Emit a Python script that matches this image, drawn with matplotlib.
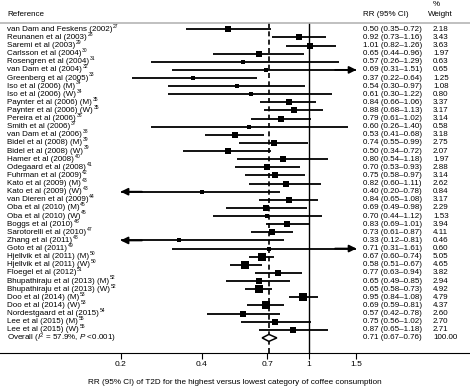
import numpy as np
import matplotlib
matplotlib.use('Agg')
import matplotlib.pyplot as plt
from matplotlib.transforms import blended_transform_factory
from matplotlib.ticker import NullLocator

plt.rcParams['font.family'] = ['Liberation Sans', 'DejaVu Sans']
plt.rcParams['mathtext.fontset'] = 'custom'
plt.rcParams['mathtext.rm'] = 'Liberation Sans'
plt.rcParams['mathtext.it'] = 'Liberation Sans:italic'
plt.rcParams['mathtext.bf'] = 'Liberation Sans:bold'

studies = [
    "van Dam and Feskens (2002)", "Reunanen et al (2003)", "Saremi et al (2003)",
    "Carlsson et al (2004)", "Rosengren et al (2004)", "van Dam et al (2004)",
    "Greenberg et al (2005)", "Iso et al (2006) (M)", "Iso et al (2006) (W)",
    "Paynter et al (2006) (M)", "Paynter et al (2006) (W)", "Pereira et al (2006)",
    "Smith et al (2006)", "van Dam et al (2006)", "Bidel et al (2008) (M)",
    "Bidel et al (2008) (W)", "Hamer et al (2008)", "Odegaard et al (2008)",
    "Fuhrman et al (2009)", "Kato et al (2009) (M)", "Kato et al (2009) (W)",
    "van Dieren et al (2009)", "Oba et al (2010) (M)", "Oba et al (2010) (W)",
    "Boggs et al (2010)", "Sarotorelli et al (2010)", "Zhang et al (2011)",
    "Goto et al (2011)", "Hjellvik et al (2011) (M)", "Hjellvik et al (2011) (W)",
    "Floegel et al (2012)", "Bhupathiraju et al (2013) (M)", "Bhupathiraju et al (2013) (W)",
    "Doo et al (2014) (M)", "Doo et al (2014) (W)", "Nordestgaard et al (2015)",
    "Lee et al (2015) (M)", "Lee et al (2015) (W)",
]
refs = [27, 28, 29, 30, 31, 32, 33, 34, 34, 35, 35, 36, 37, 38, 39, 39, 40, 41, 42,
        43, 43, 44, 45, 45, 46, 47, 48, 49, 50, 50, 51, 52, 52, 53, 53, 54, 55, 55]
rr = [0.50, 0.92, 1.01, 0.65, 0.57, 0.69, 0.37, 0.54, 0.61, 0.84, 0.88, 0.79, 0.60,
      0.53, 0.74, 0.50, 0.80, 0.70, 0.75, 0.82, 0.40, 0.84, 0.69, 0.70, 0.83, 0.73,
      0.33, 0.71, 0.67, 0.58, 0.77, 0.65, 0.65, 0.95, 0.69, 0.57, 0.75, 0.87]
lo = [0.35, 0.73, 0.82, 0.44, 0.26, 0.31, 0.22, 0.30, 0.30, 0.66, 0.68, 0.61, 0.26,
      0.41, 0.55, 0.34, 0.54, 0.53, 0.58, 0.60, 0.20, 0.65, 0.49, 0.44, 0.69, 0.61,
      0.12, 0.31, 0.60, 0.51, 0.63, 0.49, 0.58, 0.84, 0.59, 0.42, 0.56, 0.65]
hi = [0.72, 1.16, 1.26, 0.96, 1.29, 1.51, 0.64, 0.97, 1.22, 1.06, 1.13, 1.02, 1.40,
      0.68, 0.99, 0.72, 1.18, 0.93, 0.97, 1.11, 0.78, 1.08, 0.98, 1.12, 1.01, 0.87,
      0.81, 1.61, 0.74, 0.67, 0.94, 0.85, 0.73, 1.08, 0.81, 0.78, 1.02, 1.18]
weight = [2.18, 3.43, 3.63, 1.97, 0.63, 0.65, 1.25, 1.08, 0.80, 3.37, 3.17, 3.14, 0.58,
          3.18, 2.75, 2.07, 1.97, 2.88, 3.14, 2.62, 0.84, 3.17, 2.29, 1.53, 3.94, 4.11,
          0.46, 0.60, 5.05, 4.65, 3.82, 2.94, 4.92, 4.79, 4.37, 2.60, 2.70, 2.71]
overall_label = r"Overall ($I^{2}$ = 57.9%, $P$ <0.001)"
overall_rr, overall_lo, overall_hi, overall_w = 0.71, 0.67, 0.76, 100.00
xticks = [0.2, 0.4, 0.7, 1, 1.5]
xtick_labels = ["0.2", "0.4", "0.7", "1", "1.5"]
xlabel = "RR (95% CI) of T2D for the highest versus lowest category of coffee consumption"

W, H = 470, 388
fig = plt.figure(figsize=(W / 100, H / 100), dpi=100)
top_px, bot_px = 22.7, 353
ax = fig.add_axes([0, 1 - bot_px / H, 1, (bot_px - top_px) / H])
ax.set_xscale('log')
ax.set_xlim(0.0713, 3.96)
n = len(studies)
ax.set_ylim(39.86, -0.81)

clip_lo, clip_hi = 0.2, 1.5
fs = 5.8
lw = 1.3
tr = blended_transform_factory(ax.transAxes, ax.transData)
arrow_style = '-|>,head_length=0.7,head_width=0.35'

ax.axvline(1, color='k', lw=1.0, zorder=2)
ax.axvline(overall_rr, color='k', lw=1.2, ls=(0, (3, 2)), zorder=2)

for i in range(n):
    a = max(lo[i], clip_lo)
    b = min(hi[i], clip_hi)
    ax.plot([a, b], [i, i], color='k', lw=lw, solid_capstyle='butt', zorder=3)
    if lo[i] <= clip_lo:
        ax.annotate('', xy=(clip_lo, i), xytext=(clip_lo * 1.2, i),
                    arrowprops=dict(arrowstyle=arrow_style, color='k', lw=lw,
                                    mutation_scale=6, shrinkA=0, shrinkB=0), zorder=3)
    if hi[i] >= clip_hi:
        ax.annotate('', xy=(clip_hi, i), xytext=(clip_hi / 1.2, i),
                    arrowprops=dict(arrowstyle=arrow_style, color='k', lw=lw,
                                    mutation_scale=6, shrinkA=0, shrinkB=0), zorder=3)
    ax.plot(rr[i], i, marker='s', ms=1.4 + 1.75 * np.sqrt(weight[i]),
            color='k', mew=0, zorder=4)
    t = ax.text(7 / W, i, studies[i], transform=tr, fontsize=fs,
                va='center', ha='left')
    ax.annotate(str(refs[i]), xy=(1.0, 0.95), xycoords=t, xytext=(0.5, 0),
                textcoords='offset points', fontsize=3.6, va='center', ha='left')
    ax.text(363 / W, i, f"{rr[i]:.2f} ({lo[i]:.2f}\u2013{hi[i]:.2f})", transform=tr,
            fontsize=fs, va='center', ha='left')
    ax.text(433 / W, i, f"{weight[i]:.2f}", transform=tr, fontsize=fs,
            va='center', ha='left')

# overall
ax.fill([overall_lo, overall_rr, overall_hi, overall_rr], [n, n - 0.43, n, n + 0.43],
        facecolor='white', edgecolor='k', lw=1.1, zorder=5)
ax.text(7 / W, n, overall_label, transform=tr, fontsize=fs, va='center', ha='left')
ax.text(363 / W, n, f"{overall_rr:.2f} ({overall_lo:.2f}\u2013{overall_hi:.2f})",
        transform=tr, fontsize=fs, va='center', ha='left')
ax.text(433 / W, n, f"{overall_w:.2f}", transform=tr, fontsize=fs, va='center', ha='left')

# headers
ax.text(7 / W, -1.88, "Reference", transform=tr, fontsize=fs, va='center', ha='left')
ax.text(363 / W, -1.88, "RR (95% CI)", transform=tr, fontsize=fs, va='center', ha='left')
ax.text(433 / W, -3.0, "%", transform=tr, fontsize=fs, va='center', ha='left')
ax.text(428 / W, -1.88, "Weight", transform=tr, fontsize=fs, va='center', ha='left')

for s in ['left', 'right']:
    ax.spines[s].set_visible(False)
ax.spines['top'].set_color('#b5b5b5')
ax.spines['top'].set_linewidth(1.2)
ax.spines['bottom'].set_color('k')
ax.spines['bottom'].set_linewidth(0.8)
ax.set_yticks([])
ax.set_xticks(xticks)
ax.set_xticklabels(xtick_labels)
ax.xaxis.set_minor_locator(NullLocator())
ax.tick_params(axis='x', direction='out', length=4, width=0.8, labelsize=6, pad=2)

fig.text(0.5, 1 - 382 / H, xlabel, ha='center', va='center', fontsize=5.9)

fig.savefig('out.png', dpi=100)
